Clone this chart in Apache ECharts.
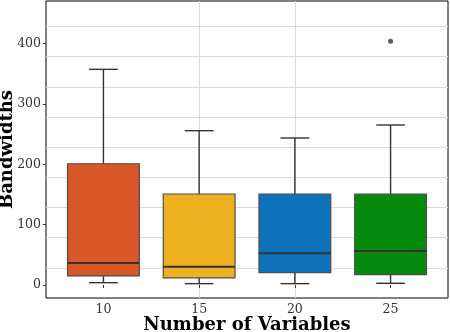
<!DOCTYPE html>
<html>
<head>
<meta charset="utf-8">
<script src="https://cdn.jsdelivr.net/npm/echarts@6/dist/echarts.min.js"></script>
<style>
  html, body { margin: 0; padding: 0; background: #fff; }
  #main { width: 450px; height: 332px; }
</style>
</head>
<body>
<div id="main"></div>
<script>
// data
var categories = ['10', '15', '20', '25'];
var whiskerLow = [3.8, 2.2, 2.2, 2.8];
var q1 = [15, 11.6, 20.4, 17];
var median = [36.5, 30.4, 52.5, 56.4];
var q3 = [201, 150.8, 150.8, 150.8];
var whiskerHigh = [357.5, 255.8, 243.7, 265.2];
var outliers = [[3, 404]]; // [category index, value]
var yTicks = [0, 100, 200, 300, 400];

var boxColors = ['#D95627', '#EDB021', '#0D72BA', '#058A0E'];
var serif = '"DejaVu Serif", serif';

var boxData = categories.map(function (c, i) {
    return [i + 1, whiskerLow[i], q1[i], median[i], q3[i], whiskerHigh[i]];
});
var outlierData = outliers.map(function (o) { return [o[0] + 1, o[1]]; });

function renderBox(params, api) {
    var x = api.value(0);
    var lo = api.coord([x, api.value(1)]);
    var b1 = api.coord([x, api.value(2)]);
    var md = api.coord([x, api.value(3)]);
    var b3 = api.coord([x, api.value(4)]);
    var hi = api.coord([x, api.value(5)]);
    var bw = api.size([0.75, 0])[0];
    var cw = api.size([0.3, 0])[0];
    var cx = lo[0];
    var lineStyle = { stroke: '#333', lineWidth: 1.4 };
    return {
        type: 'group',
        children: [
            { type: 'line', shape: { x1: cx, y1: b3[1], x2: cx, y2: hi[1] }, style: lineStyle },
            { type: 'line', shape: { x1: cx - cw / 2, y1: hi[1], x2: cx + cw / 2, y2: hi[1] }, style: lineStyle },
            { type: 'line', shape: { x1: cx, y1: b1[1], x2: cx, y2: lo[1] }, style: lineStyle },
            { type: 'line', shape: { x1: cx - cw / 2, y1: lo[1], x2: cx + cw / 2, y2: lo[1] }, style: lineStyle },
            {
                type: 'rect',
                shape: { x: cx - bw / 2, y: b3[1], width: bw, height: b1[1] - b3[1] },
                style: { fill: boxColors[params.dataIndex], stroke: '#4d4d4d', lineWidth: 1.2 }
            },
            { type: 'line', shape: { x1: cx - bw / 2, y1: md[1], x2: cx + bw / 2, y2: md[1] }, style: { stroke: '#333', lineWidth: 2 } }
        ]
    };
}

var gridLine = { show: true, showMinLine: false, showMaxLine: false, lineStyle: { color: '#d9d9d9', width: 1 } };

var myChart = echarts.init(document.getElementById('main'));
var option = {
    animation: false,
    grid: {
        left: 46, right: 2, top: 1, bottom: 34,
        outerBoundsMode: 'none',
        containLabel: false,
        show: true, borderColor: '#000', borderWidth: 1, backgroundColor: 'transparent'
    },
    xAxis: {
        type: 'value',
        min: 0.4, max: 4.6, interval: 1,
        name: 'Number of Variables',
        nameLocation: 'middle',
        nameGap: 18,
        nameMoveOverlap: false,
        nameTextStyle: { fontFamily: serif, fontWeight: 'bold', fontSize: 18, color: '#000' },
        axisLine: { show: false },
        axisTick: { show: true, length: 3, customValues: [1, 2, 3, 4], lineStyle: { color: '#333' } },
        axisLabel: {
            customValues: [1, 2, 3, 4],
            margin: 5,
            fontFamily: serif, fontSize: 12.5, color: '#333',
            formatter: function (v) { return categories[Math.round(v) - 1]; }
        },
        splitLine: gridLine
    },
    yAxis: [{
        type: 'value',
        min: -21.6, max: 470.8, interval: 50,
        name: 'Bandwidths',
        nameLocation: 'middle',
        nameGap: 30,
        nameMoveOverlap: false,
        nameTextStyle: { fontFamily: serif, fontWeight: 'bold', fontSize: 18, color: '#000' },
        axisLine: { show: false },
        axisTick: { show: true, length: 3, customValues: yTicks, lineStyle: { color: '#333' } },
        axisLabel: {
            customValues: yTicks,
            margin: 5,
            fontFamily: serif, fontSize: 12.5, color: '#333'
        },
        splitLine: { show: false }
    }, {
        type: 'value',
        position: 'right',
        min: -21.6, max: 470.8, interval: 50,
        axisLine: { show: false },
        axisTick: { show: false },
        axisLabel: { show: false },
        splitLine: gridLine
    }],
    series: [
        {
            type: 'custom',
            renderItem: renderBox,
            data: boxData,
            encode: { x: 0, y: [1, 2, 3, 4, 5] }
        },
        {
            type: 'scatter',
            data: outlierData,
            symbolSize: 5,
            itemStyle: { color: '#333' }
        }
    ]
};
myChart.setOption(option);
</script>
</body>
</html>
